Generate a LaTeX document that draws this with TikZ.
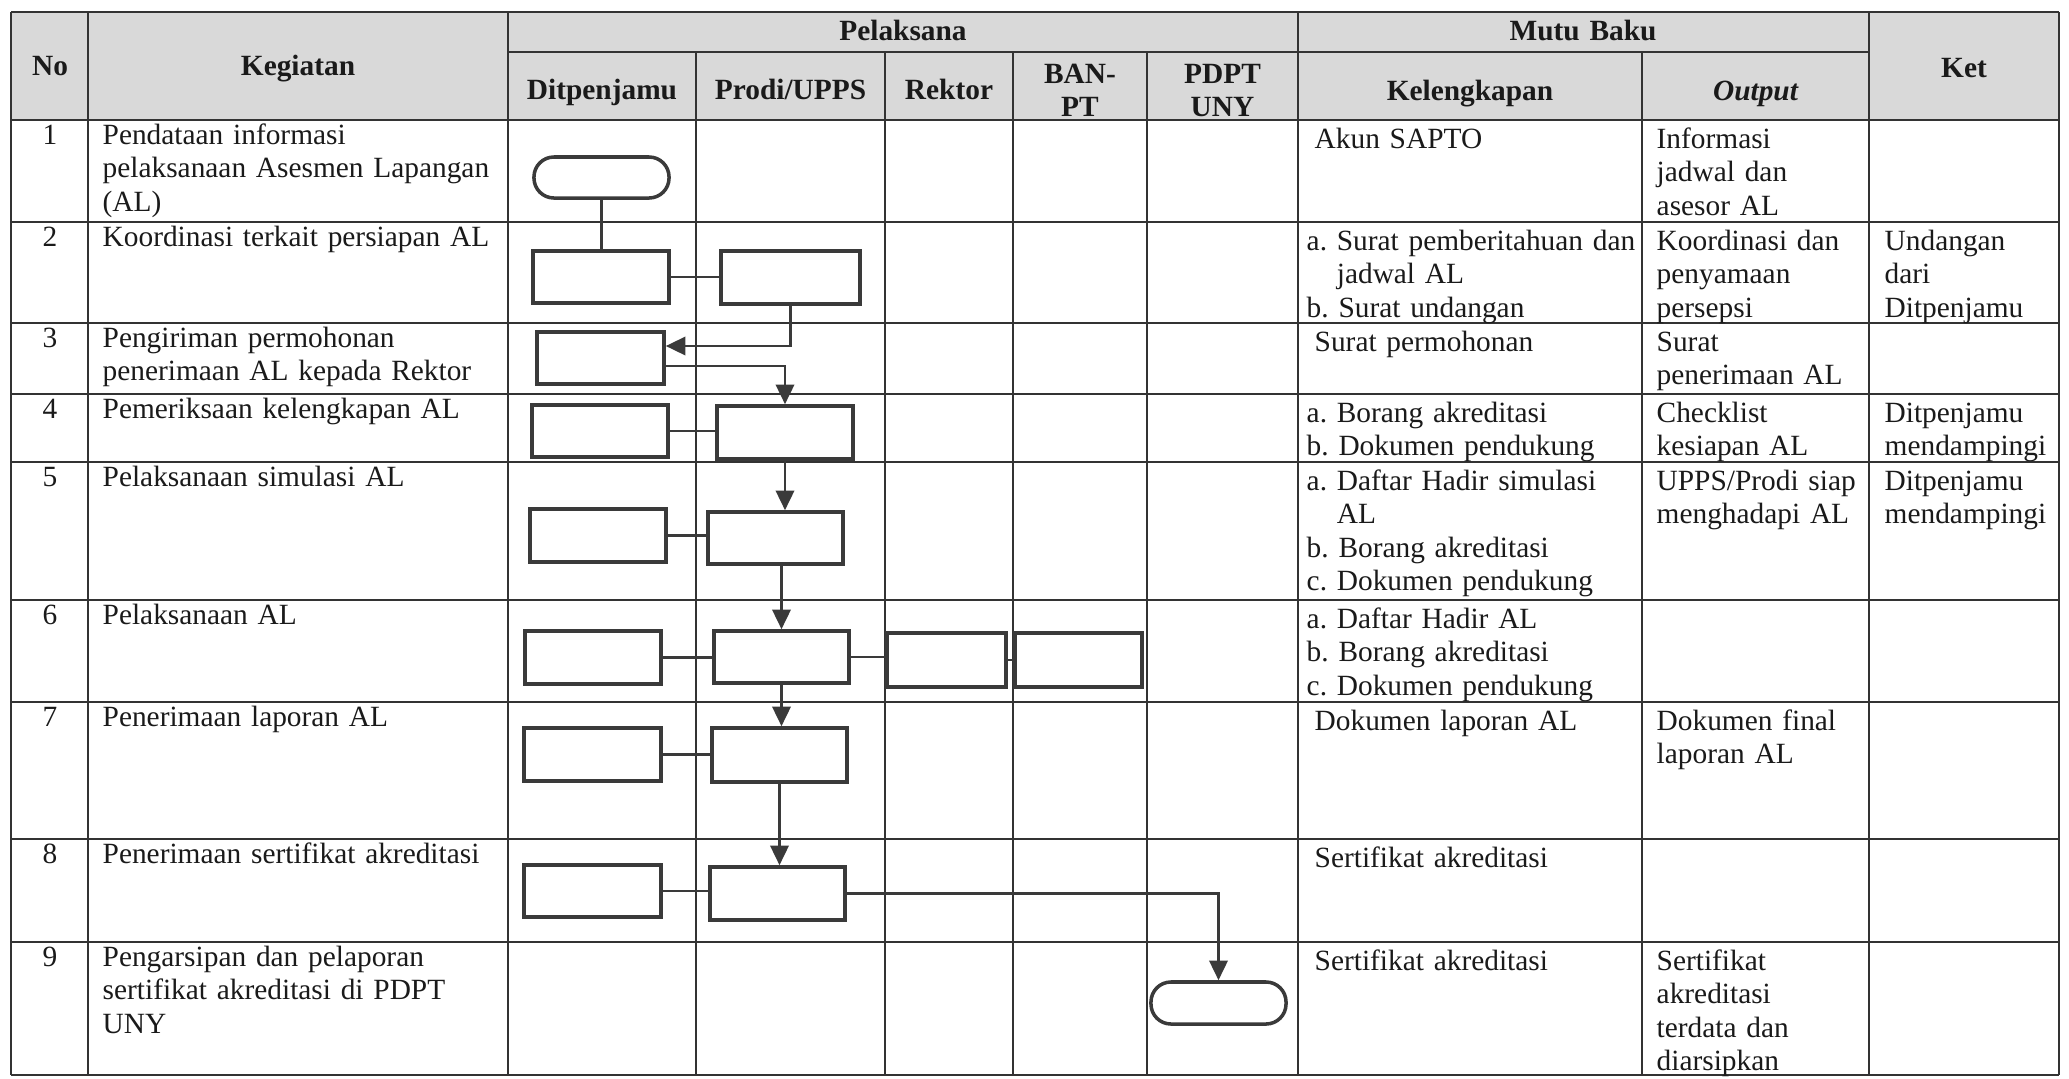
\documentclass[tikz,border=0pt]{standalone}
\usepackage{fontspec}
\setmainfont{Liberation Serif}
\usetikzlibrary{arrows.meta,calc}
\definecolor{ink}{HTML}{1A1A1A}
\definecolor{rulec}{HTML}{333333}
\definecolor{hdr}{HTML}{D9D9D9}
\definecolor{boxc}{HTML}{3A3A3A}
\newcommand\fsz{\fontsize{8.35}{9.55}\selectfont\frenchspacing}
\begin{document}
\begin{tikzpicture}[x=0.01cm,y=-0.01cm,
  grid/.style={draw=rulec,line width=0.55pt},
  fbox/.style 2 args={draw=boxc,line width=1pt,fill=white,inner sep=0,minimum width=#1,minimum height=#2},
  term/.style 2 args={fbox={#1}{#2},rounded corners=0.2cm},
  link/.style={draw=boxc,line width=0.8pt},
  arr/.style={link,-{Triangle[length=5.6pt,width=5.2pt]}},
  cell/.style={anchor=base west,inner sep=0,text width=6cm,align=left,font=\fsz,text=ink},
  num/.style={anchor=base,inner sep=0,font=\fsz,text=ink},
  hd/.style={anchor=base,inner sep=0,font=\fsz\bfseries,text=ink,text width=3cm,align=center}]
\useasboundingbox (0,0) rectangle (2069,1078);
\fill[white] (0,0) rectangle (2069,1078);
% header background
\fill[hdr] (11,12) rectangle (2059,120);
% table grid
\foreach \y in {12,120,222,323,394,462,600,702,839,942,1075}
  \draw[grid] (11,\y) -- (2059,\y);
\draw[grid] (508,52) -- (1869,52);
\foreach \x in {11,88,508,1298,1869,2059}
  \draw[grid] (\x,12) -- (\x,1075);
\foreach \x in {696,885,1013,1147,1642}
  \draw[grid] (\x,52) -- (\x,1075);
% header texts
\node[hd] (hNo) at (50,75) {No};
\node[hd] (hKeg) at (298,75) {Kegiatan};
\node[hd] (hPel) at (903,40) {Pelaksana};
\node[hd] (hMutu) at (1583,40) {Mutu Baku};
\node[hd] (hKet) at (1964,77) {Ket};
\node[hd] (hDit) at (602,99) {Ditpenjamu};
\node[hd] (hProdi) at (790.5,99) {Prodi/UPPS};
\node[hd] (hRek) at (949,99) {Rektor};
\node[hd] (hBan) at (1080,83) {BAN-\\PT};
\node[hd] (hPdpt) at (1222.5,83) {PDPT\\UNY};
\node[hd] (hKel) at (1470,100) {Kelengkapan};
\node[hd,font=\fsz\bfseries\itshape] (hOut) at (1755.5,100) {Output};
% row texts
\node[num] (n1) at (50,144) {1};
\node[cell] (k1) at (102,144) {Pendataan informasi\\pelaksanaan Asesmen Lapangan\\(AL)};
\node[cell] (l1) at (1314,148) {Akun SAPTO};
\node[cell] (o1) at (1656,148) {Informasi\\jadwal dan\\asesor AL};
\node[num] (n2) at (50,246) {2};
\node[cell] (k2) at (102,246) {Koordinasi terkait persiapan AL};
\node[cell] (l2) at (1306,250) {a. Surat pemberitahuan dan\\\hphantom{a. }jadwal AL\\b. Surat undangan};
\node[cell] (o2) at (1656,250) {Koordinasi dan\\penyamaan\\persepsi};
\node[cell] (q2) at (1884,250) {Undangan\\dari\\Ditpenjamu};
\node[num] (n3) at (50,347) {3};
\node[cell] (k3) at (102,347) {Pengiriman permohonan\\penerimaan AL kepada Rektor};
\node[cell] (l3) at (1314,351) {Surat permohonan};
\node[cell] (o3) at (1656,351) {Surat\\penerimaan AL};
\node[num] (n4) at (50,418) {4};
\node[cell] (k4) at (102,418) {Pemeriksaan kelengkapan AL};
\node[cell] (l4) at (1306,422) {a. Borang akreditasi\\b. Dokumen pendukung};
\node[cell] (o4) at (1656,422) {Checklist\\kesiapan AL};
\node[cell] (q4) at (1884,422) {Ditpenjamu\\mendampingi};
\node[num] (n5) at (50,486) {5};
\node[cell] (k5) at (102,486) {Pelaksanaan simulasi AL};
\node[cell] (l5) at (1306,490) {a. Daftar Hadir simulasi\\\hphantom{a. }AL\\b. Borang akreditasi\\c. Dokumen pendukung};
\node[cell] (o5) at (1656,490) {UPPS/Prodi siap\\menghadapi AL};
\node[cell] (q5) at (1884,490) {Ditpenjamu\\mendampingi};
\node[num] (n6) at (50,624) {6};
\node[cell] (k6) at (102,624) {Pelaksanaan AL};
\node[cell] (l6) at (1306,628) {a. Daftar Hadir AL\\b. Borang akreditasi\\c. Dokumen pendukung};
\node[num] (n7) at (50,726) {7};
\node[cell] (k7) at (102,726) {Penerimaan laporan AL};
\node[cell] (l7) at (1314,730) {Dokumen laporan AL};
\node[cell] (o7) at (1656,730) {Dokumen final\\laporan AL};
\node[num] (n8) at (50,863) {8};
\node[cell] (k8) at (102,863) {Penerimaan sertifikat akreditasi};
\node[cell] (l8) at (1314,867) {Sertifikat akreditasi};
\node[num] (n9) at (50,966) {9};
\node[cell] (k9) at (102,966) {Pengarsipan dan pelaporan\\sertifikat akreditasi di PDPT\\UNY};
\node[cell] (l9) at (1314,970) {Sertifikat akreditasi};
\node[cell] (o9) at (1656,970) {Sertifikat\\akreditasi\\terdata dan\\diarsipkan};
% flowchart shapes
\node[term={1.35cm}{0.41cm}] (t1) at (601.5,177.5) {};
\node[fbox={1.36cm}{0.52cm}] (a1) at (601,277) {};
\node[fbox={1.39cm}{0.53cm}] (a2) at (790.5,277.5) {};
\node[fbox={1.27cm}{0.52cm}] (b1) at (600.5,358) {};
\node[fbox={1.36cm}{0.52cm}] (c1) at (600,431) {};
\node[fbox={1.36cm}{0.53cm}] (c2) at (785,432.5) {};
\node[fbox={1.36cm}{0.53cm}] (d1) at (598,535.5) {};
\node[fbox={1.35cm}{0.52cm}] (d2) at (775.5,538) {};
\node[fbox={1.36cm}{0.53cm}] (e1) at (593,657.5) {};
\node[fbox={1.35cm}{0.52cm}] (e2) at (781.5,657) {};
\node[fbox={1.19cm}{0.54cm}] (e3) at (946.5,660) {};
\node[fbox={1.27cm}{0.54cm}] (e4) at (1078.5,660) {};
\node[fbox={1.37cm}{0.53cm}] (f1) at (592.5,754.5) {};
\node[fbox={1.35cm}{0.54cm}] (f2) at (779.5,755) {};
\node[fbox={1.37cm}{0.52cm}] (g1) at (592.5,891) {};
\node[fbox={1.35cm}{0.53cm}] (g2) at (777.5,893.5) {};
\node[term={1.35cm}{0.42cm}] (t2) at (1218.5,1003) {};
% connectors
\draw[link] (t1.south) -- (t1.south |- a1.north);
\draw[link] (a1.east) -- (a1.east -| a2.west);
\draw[arr] (a2.south) |- ($(b1.east)+(0,-12)$);
\draw[arr] ($(b1.east)+(0,8)$) -| (c2.north);
\draw[link] (c1.east) -- (c1.east -| c2.west);
\draw[arr] (c2.south) -- (c2.south |- d2.north);
\draw[link] (d1.east) -- (d1.east -| d2.west);
\draw[arr] (e2.north |- d2.south) -- (e2.north);
\draw[link] (e1.east) -- (e1.east -| e2.west);
\draw[link] (e2.east) -- (e2.east -| e3.west);
\draw[link] (e3.east) -- (e4.west);
\draw[arr] (e2.south) -- (e2.south |- f2.north);
\draw[link] (f1.east) -- (f1.east -| f2.west);
\draw[arr] (f2.south) -- (f2.south |- g2.north);
\draw[link] (g1.east) -- (g1.east -| g2.west);
\draw[arr] (g2.east) -| (t2.north);
\end{tikzpicture}
\end{document}
